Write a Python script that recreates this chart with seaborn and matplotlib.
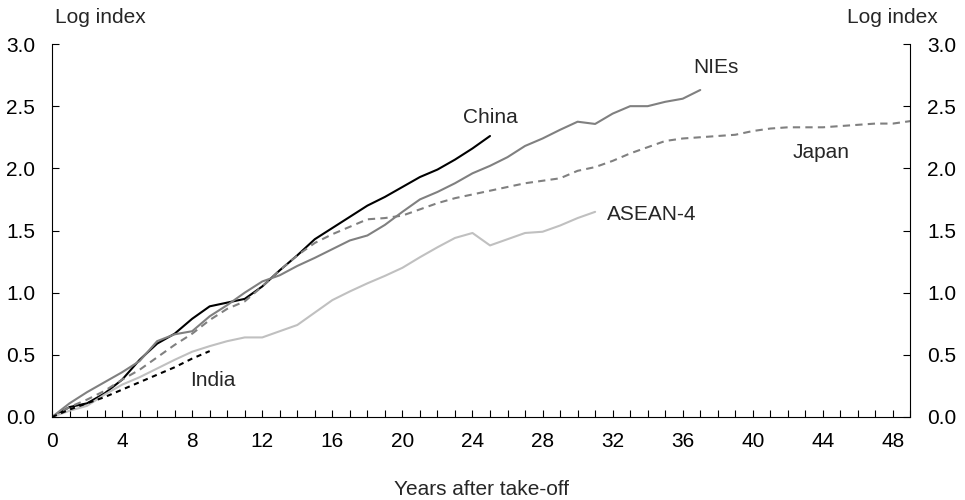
import matplotlib
matplotlib.use('Agg')
from matplotlib import pyplot as plt
import seaborn as sns
import pandas as pd
import numpy as np

# values (log index vs years after take-off)
china = [0, 0.08, 0.11, 0.19, 0.30, 0.46, 0.59, 0.67, 0.79, 0.89, 0.92, 0.95,
         1.05, 1.18, 1.30, 1.43, 1.52, 1.61, 1.70, 1.77, 1.85, 1.93, 1.99,
         2.07, 2.16, 2.26]
nies = [0, 0.11, 0.20, 0.28, 0.36, 0.45, 0.61, 0.665, 0.69, 0.81, 0.90, 1.00,
        1.09, 1.14, 1.215, 1.28, 1.35, 1.42, 1.46, 1.545, 1.65, 1.75, 1.81,
        1.88, 1.96, 2.02, 2.09, 2.18, 2.24, 2.31, 2.375, 2.357, 2.44, 2.50,
        2.50, 2.535, 2.56, 2.63]
japan = [0, 0.08, 0.14, 0.21, 0.30, 0.38, 0.48, 0.58, 0.67, 0.78, 0.87, 0.93,
         1.05, 1.18, 1.30, 1.40, 1.47, 1.53, 1.59, 1.60, 1.62, 1.67, 1.72,
         1.76, 1.79, 1.82, 1.85, 1.88, 1.90, 1.92, 1.98, 2.01, 2.06, 2.12,
         2.17, 2.22, 2.24, 2.25, 2.26, 2.27, 2.30, 2.32, 2.33, 2.33, 2.33,
         2.34, 2.35, 2.36, 2.36, 2.38]
asean4 = [0, 0.05, 0.09, 0.18, 0.26, 0.32, 0.39, 0.46, 0.525, 0.57, 0.61, 0.64,
          0.64, 0.69, 0.74, 0.84, 0.94, 1.01, 1.075, 1.135, 1.20, 1.285, 1.365,
          1.44, 1.48, 1.38, 1.43, 1.48, 1.49, 1.54, 1.60, 1.65]
india = [0, 0.06, 0.11, 0.16, 0.22, 0.28, 0.34, 0.40, 0.47, 0.53]

x_labels = list(range(0, 49, 4))

series = [
    # name, values, colour, dash pattern (None = solid)
    ('China', china, 'black', None),
    ('NIEs', nies, '#808080', None),
    ('Japan', japan, '#808080', (3.5, 2.5)),
    ('ASEAN-4', asean4, '#c0c0c0', None),
    ('India', india, 'black', (2.5, 2.2)),
]

sns.set_style('white')
plt.rcParams['font.family'] = ['Liberation Sans', 'DejaVu Sans']
FS = 15

fig = plt.figure(figsize=(9.65, 5.0), dpi=100)
ax = fig.add_axes([0.0539, 0.166, 0.8896, 0.746])

for name, vals, col, dash in series:
    df = pd.DataFrame({'year': np.arange(len(vals)), 'val': vals})
    line = sns.lineplot(data=df, x='year', y='val', color=col, lw=1.5, ax=ax)
    if dash:
        line.lines[-1].set_dashes(dash)

ax.set_xlim(0, 49)
ax.set_ylim(0, 3.0)
ax.set_xticks(range(0, 50))
ax.set_xticklabels([str(i) if i in x_labels else '' for i in range(0, 50)])
ax.set_yticks(np.arange(0, 3.01, 0.5))
ax.set_yticklabels(['{:.1f}'.format(v) for v in np.arange(0, 3.01, 0.5)])

ax.tick_params(axis='both', direction='in', length=5, width=0.8,
               labelsize=FS, colors='black')
ax.tick_params(axis='y', right=True, labelright=True, left=True, pad=12)
ax.tick_params(axis='x', bottom=True, pad=11)

for s in ['left', 'right', 'bottom']:
    ax.spines[s].set_visible(True)
    ax.spines[s].set_color('black')
    ax.spines[s].set_linewidth(0.8)
ax.spines['top'].set_visible(False)

ax.set_xlabel('Years after take-off', fontsize=FS, labelpad=21)
ax.set_ylabel('')

fig.text(0.057, 0.965, 'Log index', fontsize=FS, ha='left', va='center')
fig.text(0.972, 0.965, 'Log index', fontsize=FS, ha='right', va='center')

# series labels
ax.text(25.0, 2.41, 'China', fontsize=FS, ha='center', va='center')
ax.text(37.9, 2.81, 'NIEs', fontsize=FS, ha='center', va='center')
ax.text(43.9, 2.13, 'Japan', fontsize=FS, ha='center', va='center')
ax.text(31.7, 1.63, 'ASEAN-4', fontsize=FS, ha='left', va='center')
ax.text(9.2, 0.29, 'India', fontsize=FS, ha='center', va='center')

fig.savefig('out.png', dpi=100)
